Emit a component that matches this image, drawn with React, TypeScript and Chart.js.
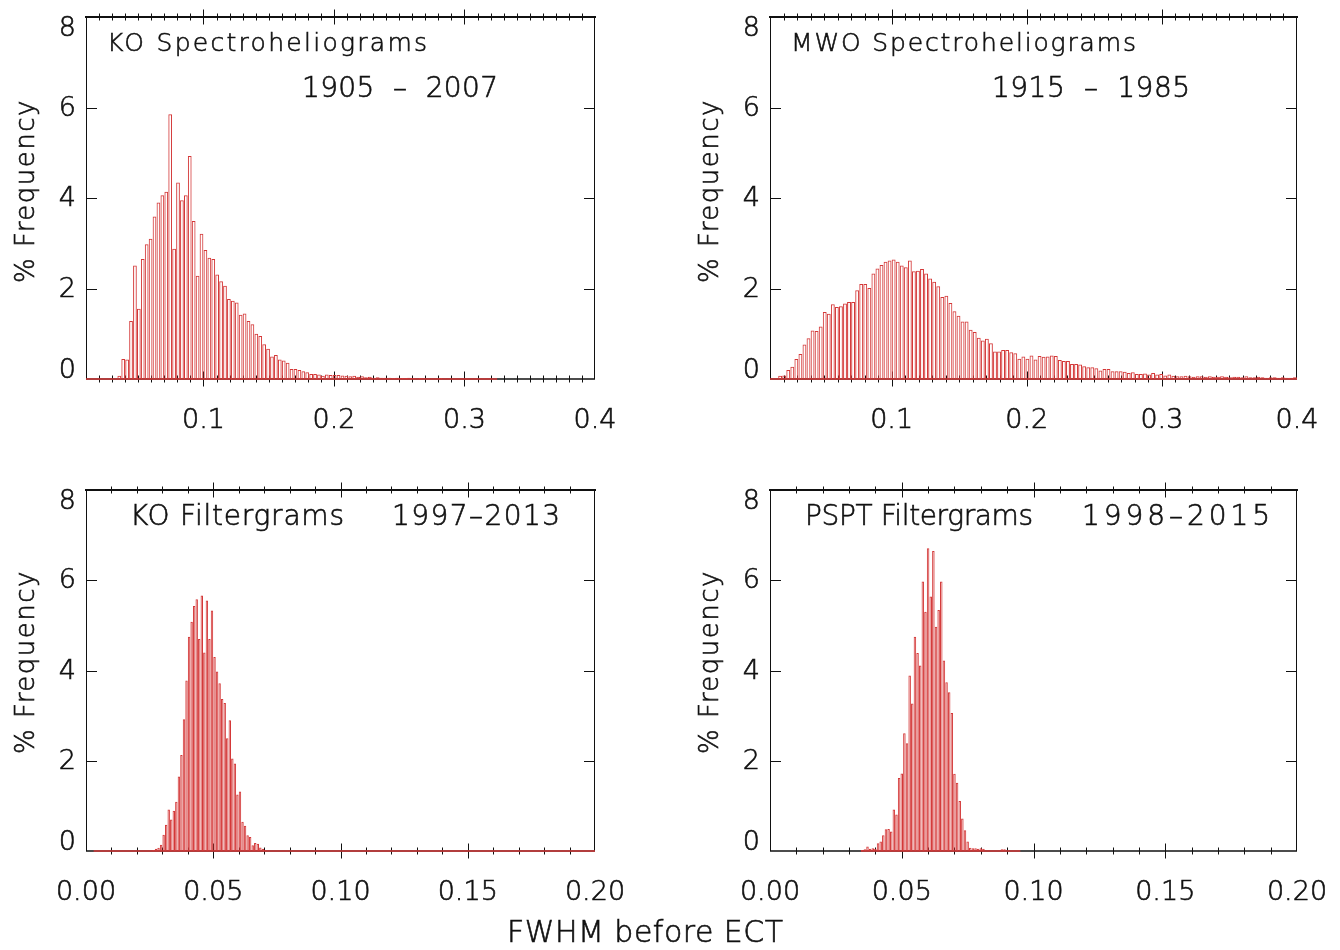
import React, { useEffect, useRef } from "react";
import { Chart, registerables } from "chart.js";

Chart.register(...registerables);

// ---------------- data ----------------
// KO spectroheliograms 1905-2007 : bin width 0.003, first bin left edge 0.034
const KO_SH_BIN_START = 0.034;
const KO_SH_BIN_WIDTH = 0.003;
const KO_SH_FREQ = [
  0.07, 0.44, 0.43, 1.28, 2.51, 1.55, 2.65, 2.98, 3.1, 3.59,
  3.9, 4.06, 4.14, 5.85, 2.88, 4.34, 3.95, 4.06, 4.93, 3.49,
  2.28, 3.21, 2.85, 2.68, 2.65, 2.31, 2.16, 2.06, 1.77, 1.73,
  1.69, 1.42, 1.45, 1.28, 1.21, 1.0, 0.95, 0.77, 0.67, 0.5,
  0.53, 0.43, 0.41, 0.36, 0.22, 0.22, 0.2, 0.17, 0.15, 0.11,
  0.11, 0.1, 0.07, 0.1, 0.09, 0.09, 0.09, 0.08, 0.07, 0.06,
  0.07, 0.05, 0.06, 0.04, 0.05, 0.03, 0.04, 0.03, 0.03, 0.03,
  0.02, 0.03, 0.02, 0.02, 0.03, 0.02, 0.01, 0.02, 0.01, 0.01,
  0.01, 0.01, 0.02, 0.01, 0.01, 0.01, 0.01, 0.01, 0.01, 0.01,
  0.01, 0.01, 0.01, 0.01, 0.01, 0.01,
];
const KO_SH_BASELINE = [0.01, 0.325];

// MWO spectroheliograms 1915-1985 : bin width 0.003, first bin left edge 0.010
const MWO_BIN_START = 0.01;
const MWO_BIN_WIDTH = 0.003;
const MWO_FREQ = [
  0.01, 0.01, 0.07, 0.08, 0.2, 0.27, 0.44, 0.55, 0.76, 0.9,
  1.07, 1.06, 1.16, 1.48, 1.44, 1.65, 1.59, 1.61, 1.67, 1.7,
  1.7, 1.96, 2.1, 2.1, 2.01, 2.33, 2.44, 2.52, 2.59, 2.62,
  2.64, 2.59, 2.51, 2.47, 2.62, 2.38, 2.39, 2.43, 2.33, 2.22,
  2.15, 2.05, 1.81, 1.84, 1.68, 1.5, 1.4, 1.27, 1.27, 1.09,
  1.04, 0.91, 0.85, 0.89, 0.79, 0.61, 0.61, 0.64, 0.64, 0.59,
  0.57, 0.45, 0.5, 0.45, 0.52, 0.43, 0.51, 0.49, 0.5, 0.52,
  0.51, 0.42, 0.4, 0.4, 0.33, 0.33, 0.32, 0.28, 0.26, 0.26,
  0.24, 0.19, 0.22, 0.22, 0.17, 0.17, 0.17, 0.16, 0.13, 0.15,
  0.11, 0.11, 0.12, 0.1, 0.13, 0.1, 0.11, 0.08, 0.1, 0.07,
  0.06, 0.06, 0.07, 0.06, 0.05, 0.06, 0.06, 0.05, 0.06, 0.05,
  0.05, 0.06, 0.05, 0.04, 0.05, 0.05, 0.04, 0.06, 0.04, 0.04,
  0.05, 0.04, 0.03, 0.04, 0.04, 0.03, 0.04, 0.03, 0.03, 0.04,
];
const MWO_BASELINE = [0.01, 0.4];

// KO filtergrams 1997-2013 : bin width 0.001, first bin left edge 0.025
const KO_FG_BIN_START = 0.025;
const KO_FG_BIN_WIDTH = 0.001;
const KO_FG_FREQ = [
  0.01, 0.02, 0.05, 0.07, 0.14, 0.36, 0.58, 0.92, 0.7, 0.89,
  1.09, 1.65, 2.13, 2.92, 3.78, 4.75, 5.08, 5.43, 5.58, 4.7,
  5.66, 4.4, 5.55, 4.7, 5.33, 4.3, 3.98, 3.72, 3.37, 3.28,
  2.5, 2.9, 2.05, 1.94, 1.25, 1.32, 0.65, 0.56, 0.35, 0.31,
  0.13, 0.18, 0.16, 0.08, 0.05, 0.02,
];
const KO_FG_BASELINE = [0.003, 0.2];

// PSPT filtergrams 1998-2015 : bin width 0.001, first bin left edge 0.0345
const PSPT_BIN_START = 0.0345;
const PSPT_BIN_WIDTH = 0.001;
const PSPT_FREQ = [
  0.02, 0.04, 0.1, 0.05, 0.06, 0.05, 0.17, 0.21, 0.35, 0.48,
  0.49, 0.43, 0.92, 0.81, 1.62, 1.72, 2.61, 2.39, 3.89, 3.27,
  4.75, 4.39, 4.11, 5.97, 5.3, 6.71, 5.64, 6.65, 4.97, 5.34,
  5.97, 4.22, 3.74, 3.52, 3.06, 1.71, 1.51, 1.11, 0.72, 0.46,
  0.21, 0.07, 0.06, 0.06, 0.05, 0.06, 0.05, 0.0, 0.0, 0.0,
  0.0, 0.0, 0.0, 0.04, 0.04,
];
const PSPT_BASELINE = [0.0345, 0.095];

// axis tick labels
const Y_TICKS = [0, 2, 4, 6, 8];
const TOP_X_LABELS = [0.1, 0.2, 0.3, 0.4];
const BOTTOM_X_LABELS = [0.0, 0.05, 0.1, 0.15, 0.2];

// ---------------- styling ----------------
const RED = "rgb(212,56,56)";
const INK = "#111";
const FAMILY = '"DejaVu Sans", "Liberation Sans", sans-serif';
const W = 1340;
const H = 950;

type TextItem = { text: string; x: number; y: number; size: number; width: number };
type PanelSpec = {
  area: { left: number; top: number; right: number; bottom: number };
  xMin: number;
  xMax: number;
  minorCount: number;
  majorEvery: number;
  xLabels: number[];
  decimals: number;
  binStart: number;
  binWidth: number;
  freq: number[];
  baseline: number[];
  texts: TextItem[];
  yTitle: { x: number; y: number };
};

const PANELS: PanelSpec[] = [
  {
    area: { left: 86, top: 17, right: 595, bottom: 379 },
    xMin: 0.01, xMax: 0.4, minorCount: 39, majorEvery: 10,
    xLabels: TOP_X_LABELS, decimals: 1,
    binStart: KO_SH_BIN_START, binWidth: KO_SH_BIN_WIDTH, freq: KO_SH_FREQ, baseline: KO_SH_BASELINE,
    texts: [
      { text: "KO Spectroheliograms", x: 107, y: 51, size: 25, width: 320 },
      { text: "1905  –  2007", x: 302, y: 97, size: 28, width: 196 },
    ],
    yTitle: { x: 27, y: 191 },
  },
  {
    area: { left: 770, top: 17, right: 1297, bottom: 379 },
    xMin: 0.01, xMax: 0.4, minorCount: 39, majorEvery: 10,
    xLabels: TOP_X_LABELS, decimals: 1,
    binStart: MWO_BIN_START, binWidth: MWO_BIN_WIDTH, freq: MWO_FREQ, baseline: MWO_BASELINE,
    texts: [
      { text: "MWO Spectroheliograms", x: 791, y: 51, size: 25, width: 345 },
      { text: "1915  –  1985", x: 992, y: 97, size: 28, width: 198 },
    ],
    yTitle: { x: 711, y: 191 },
  },
  {
    area: { left: 86, top: 490, right: 595, bottom: 851 },
    xMin: 0.0, xMax: 0.2, minorCount: 20, majorEvery: 5,
    xLabels: BOTTOM_X_LABELS, decimals: 2,
    binStart: KO_FG_BIN_START, binWidth: KO_FG_BIN_WIDTH, freq: KO_FG_FREQ, baseline: KO_FG_BASELINE,
    texts: [
      { text: "KO Filtergrams", x: 130, y: 525, size: 28, width: 214 },
      { text: "1997–2013", x: 392, y: 525, size: 28, width: 168 },
      { text: "FWHM before ECT", x: 507, y: 942, size: 30, width: 276 },
    ],
    yTitle: { x: 27, y: 662 },
  },
  {
    area: { left: 770, top: 490, right: 1297, bottom: 851 },
    xMin: 0.0, xMax: 0.2, minorCount: 20, majorEvery: 5,
    xLabels: BOTTOM_X_LABELS, decimals: 2,
    binStart: PSPT_BIN_START, binWidth: PSPT_BIN_WIDTH, freq: PSPT_FREQ, baseline: PSPT_BASELINE,
    texts: [
      { text: "PSPT Filtergrams", x: 805, y: 525, size: 28, width: 228 },
      { text: "1998–2015", x: 1082, y: 525, size: 28, width: 188 },
    ],
    yTitle: { x: 711, y: 662 },
  },
];

function font(size: number) {
  return `200 ${size}px ${FAMILY}`;
}

function drawText(ctx: CanvasRenderingContext2D, text: string, x: number, y: number) {
  ctx.fillText(text, x, y);
  ctx.strokeText(text, x, y);
}

function fitText(ctx: CanvasRenderingContext2D, t: TextItem) {
  ctx.save();
  ctx.font = font(t.size);
  ctx.fillStyle = INK;
  ctx.strokeStyle = INK;
  ctx.lineWidth = 0.6;
  ctx.textAlign = "left";
  ctx.textBaseline = "alphabetic";
  const natural = ctx.measureText(t.text).width;
  const n = Math.max(1, t.text.length - 1);
  const sp = Math.max(-1, (t.width - natural) / n);
  (ctx as any).letterSpacing = `${sp.toFixed(2)}px`;
  drawText(ctx, t.text, t.x, t.y);
  ctx.restore();
}

function makeFramePlugin(spec: PanelSpec) {
  return {
    id: "idlFrame",
    beforeDatasetsDraw(chart: any) {
      const ctx: CanvasRenderingContext2D = chart.ctx;
      const { left, top, right, bottom } = chart.chartArea;
      const xs = chart.scales.x;
      const ys = chart.scales.y;
      ctx.save();
      ctx.strokeStyle = INK;
      ctx.lineWidth = 1;
      ctx.beginPath();
      ctx.moveTo(left + 0.5, top);
      ctx.lineTo(left + 0.5, bottom);
      ctx.moveTo(right - 0.5, top);
      ctx.lineTo(right - 0.5, bottom);
      ctx.stroke();
      ctx.lineWidth = 2;
      ctx.beginPath();
      ctx.moveTo(left - 1, top);
      ctx.lineTo(right + 1, top);
      ctx.stroke();
      ctx.lineWidth = 1.5;
      ctx.beginPath();
      ctx.moveTo(left, bottom);
      ctx.lineTo(right, bottom);
      ctx.stroke();
      const step = (spec.xMax - spec.xMin) / spec.minorCount;
      ctx.lineWidth = 1;
      ctx.beginPath();
      for (let i = 1; i < spec.minorCount; i++) {
        const v = spec.xMin + i * step;
        const hundredths = Math.round(v * 100);
        const major = hundredths % spec.majorEvery === 0;
        const px = Math.round(xs.getPixelForValue(v)) + 0.5;
        const len = major ? 7.5 : 3.5;
        ctx.moveTo(px, top - len);
        ctx.lineTo(px, top + len);
        ctx.moveTo(px, bottom - len);
        ctx.lineTo(px, bottom + len);
      }
      ctx.stroke();
      ctx.beginPath();
      for (const v of Y_TICKS) {
        if (v === 0 || v === 8) continue;
        const py = Math.round(ys.getPixelForValue(v)) + 0.5;
        ctx.moveTo(left, py);
        ctx.lineTo(left + 11, py);
        ctx.moveTo(right, py);
        ctx.lineTo(right - 11, py);
      }
      ctx.stroke();
      ctx.restore();
    },
    afterDraw(chart: any) {
      const ctx: CanvasRenderingContext2D = chart.ctx;
      const { left, top, bottom } = chart.chartArea;
      const xs = chart.scales.x;
      const ys = chart.scales.y;
      ctx.save();
      ctx.fillStyle = INK;
      ctx.strokeStyle = INK;
      ctx.lineWidth = 0.6;
      ctx.font = font(27);
      ctx.textAlign = "right";
      ctx.textBaseline = "middle";
      for (const v of Y_TICKS) {
        const py = ys.getPixelForValue(v);
        const cy = Math.min(bottom - 9, Math.max(top + 11, py));
        drawText(ctx, String(v), left - 10, cy + 1);
      }
      ctx.textAlign = "center";
      for (const v of spec.xLabels) {
        drawText(ctx, v.toFixed(spec.decimals), xs.getPixelForValue(v), bottom + 42);
      }
      ctx.save();
      ctx.translate(spec.yTitle.x, spec.yTitle.y);
      ctx.rotate(-Math.PI / 2);
      ctx.textAlign = "center";
      ctx.textBaseline = "middle";
      ctx.font = font(26);
      (ctx as any).letterSpacing = "1.5px";
      drawText(ctx, "% Frequency", 0, 0);
      ctx.restore();
      ctx.restore();
      for (const t of spec.texts) fitText(ctx, t);
    },
  };
}

function Panel({ spec }: { spec: PanelSpec }) {
  const ref = useRef<HTMLCanvasElement | null>(null);
  useEffect(() => {
    const canvas = ref.current;
    if (!canvas) return;
    const bars = spec.freq.map((y, i) => ({ x: spec.binStart + (i + 0.5) * spec.binWidth, y }));
    const base = spec.baseline.map((x) => ({ x, y: 0 }));
    const { left, top, right, bottom } = spec.area;
    const chart = new Chart(canvas, {
      type: "bar",
      data: {
        datasets: [
          {
            type: "bar",
            data: bars as any,
            borderColor: RED,
            backgroundColor: "rgba(255,255,255,0)",
            borderWidth: 1,
            barPercentage: 0.95,
            categoryPercentage: 1,
            order: 2,
          } as any,
          {
            type: "line",
            data: base as any,
            borderColor: RED,
            borderWidth: 1.6,
            pointRadius: 0,
            clip: false,
            order: 1,
          } as any,
        ],
      },
      options: {
        responsive: false,
        animation: false,
        devicePixelRatio: 1,
        layout: { padding: { left, top, right: W - right, bottom: H - bottom } },
        plugins: { legend: { display: false }, tooltip: { enabled: false }, title: { display: false } },
        scales: {
          x: { type: "linear", min: spec.xMin, max: spec.xMax, display: false, offset: false, grid: { offset: false } },
          y: { type: "linear", min: 0, max: 8, display: false },
        },
      } as any,
      plugins: [makeFramePlugin(spec)],
    });
    return () => chart.destroy();
  }, [spec]);
  return (
    <canvas
      ref={ref}
      width={W}
      height={H}
      style={{ position: "absolute", left: 0, top: 0, width: W, height: H }}
    />
  );
}

export default function App() {
  return (
    <div style={{ position: "absolute", left: 0, top: 0, width: W, height: H, background: "#fff", overflow: "hidden" }}>
      {PANELS.map((p, i) => (
        <Panel key={i} spec={p} />
      ))}
    </div>
  );
}
